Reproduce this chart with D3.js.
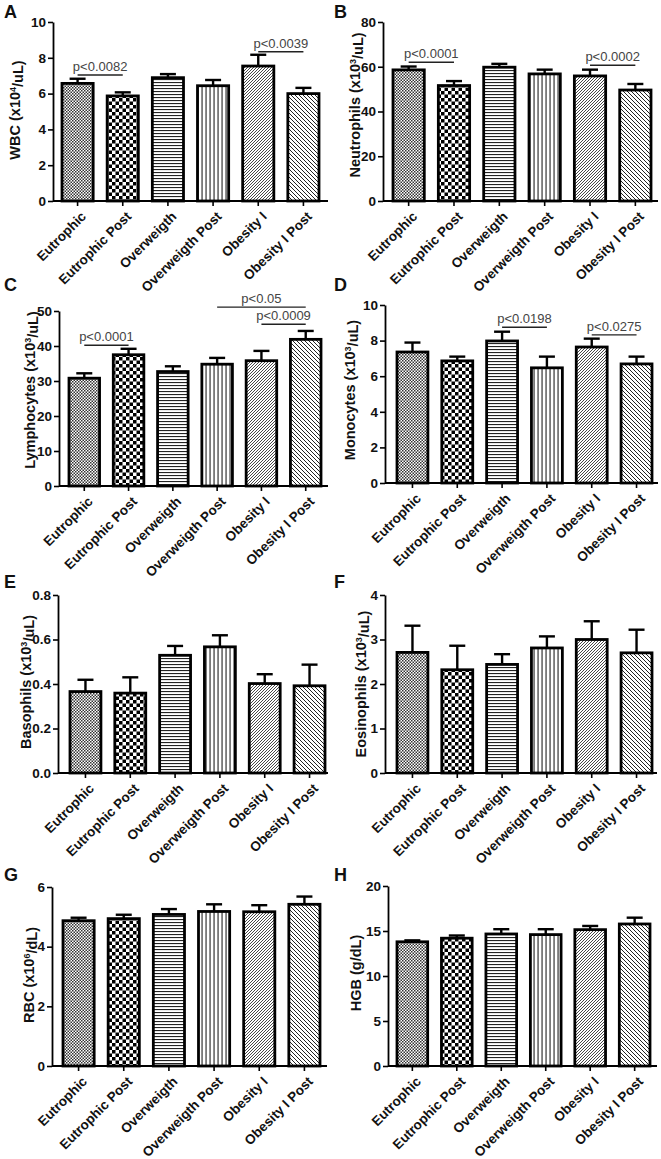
<!DOCTYPE html>
<html><head><meta charset="utf-8">
<script src="https://cdn.jsdelivr.net/npm/d3@7"></script>
<style>body{margin:0;background:#fff}svg{display:block}</style>
</head><body>
<script>
// ---------- DATA ----------
const categories = ["Eutrophic","Eutrophic Post","Overweigth","Overweigth Post","Obesity I","Obesity I Post"];
const wbc      = [6.57, 5.87, 6.89, 6.44, 7.54, 6.00];
const wbcErr   = [0.26, 0.20, 0.20, 0.32, 0.63, 0.32];
const neut     = [58.6, 51.6, 59.8, 56.8, 55.9, 49.6];
const neutErr  = [1.5, 2.0, 1.5, 1.9, 2.8, 2.7];
const lymph    = [30.8, 37.5, 32.7, 34.8, 35.8, 41.9];
const lymphErr = [1.4, 1.7, 1.5, 1.8, 2.8, 2.4];
const mono     = [7.36, 6.86, 7.98, 6.47, 7.64, 6.69];
const monoErr  = [0.53, 0.24, 0.52, 0.63, 0.47, 0.41];
const baso     = [0.366, 0.359, 0.529, 0.567, 0.402, 0.392];
const basoErr  = [0.053, 0.071, 0.042, 0.052, 0.042, 0.095];
const eos      = [2.71, 2.32, 2.44, 2.81, 3.00, 2.70];
const eosErr   = [0.60, 0.54, 0.23, 0.26, 0.41, 0.52];
const rbc      = [4.87, 4.94, 5.08, 5.18, 5.17, 5.42];
const rbcErr   = [0.10, 0.13, 0.18, 0.24, 0.22, 0.26];
const hgb      = [13.8, 14.2, 14.67, 14.6, 15.15, 15.78];
const hgbErr   = [0.16, 0.30, 0.53, 0.60, 0.41, 0.70];

const yTicksA = [0,2,4,6,8,10];
const yTicksB = [0,20,40,60,80];
const yTicksC = [0,10,20,30,40,50];
const yTicksD = [0,2,4,6,8,10];
const yTicksE = [0,0.2,0.4,0.6,0.8];
const yTicksF = [0,1,2,3,4];
const yTicksG = [0,2,4,6];
const yTicksH = [0,5,10,15,20];

// significance brackets: [fromIndex, toIndex, yValue, label]
const sigA = [[0,1,7.04,"p<0.0082"],[4,5,8.34,"p<0.0039"]];
const sigB = [[0,1,62.0,"p<0.0001"],[4,5,60.7,"p<0.0002"]];
const sigC = [[0,1,40.2,"p<0.0001"],[3,5,51.1,"p<0.05"],[4,5,46.2,"p<0.0009"]];
const sigD = [[2,3,8.75,"p<0.0198"],[4,5,8.32,"p<0.0275"]];

// ---------- LAYOUT ----------
const W = 661, H = 1159;
const svg = d3.select("body").append("svg").attr("width", W).attr("height", H);
const defs = svg.append("defs");

function pat(id, w, h, build){
  const p = defs.append("pattern").attr("id", id).attr("patternUnits","userSpaceOnUse")
    .attr("width", w).attr("height", h);
  p.append("rect").attr("width", w).attr("height", h).attr("fill","#fff");
  build(p);
}
pat("p0", 3, 3, p => {
  p.append("rect").attr("x",0).attr("y",0).attr("width",1.5).attr("height",1.5).attr("fill","#333");
  p.append("rect").attr("x",1.5).attr("y",1.5).attr("width",1.5).attr("height",1.5).attr("fill","#333");
});
pat("p1", 7, 7, p => {
  p.append("rect").attr("x",0).attr("y",0).attr("width",3.5).attr("height",3.5).attr("fill","#000");
  p.append("rect").attr("x",3.5).attr("y",3.5).attr("width",3.5).attr("height",3.5).attr("fill","#000");
});
pat("p2", 6, 3, p => {
  p.append("rect").attr("x",0).attr("y",1).attr("width",6).attr("height",1.1).attr("fill","#222");
});
pat("p3", 4, 6, p => {
  p.append("rect").attr("x",1.5).attr("y",0).attr("width",1.1).attr("height",6).attr("fill","#222");
});
pat("p4", 3, 3, p => {
  p.append("path").attr("d","M-1,1 L1,-1 M0,3 L3,0 M2,4 L4,2").attr("stroke","#333").attr("stroke-width",0.9);
});
pat("p5", 4, 4, p => {
  p.append("path").attr("d","M-1,3 L1,5 M0,0 L4,4 M3,-1 L5,1").attr("stroke","#222").attr("stroke-width",1.0);
});
const fills = ["url(#p0)","url(#p1)","url(#p2)","url(#p3)","url(#p4)","url(#p5)"];

const FONT = "'Liberation Sans', Arial, sans-serif";

const panels = [
  {letter:"A", lx:4, ly:18, x0:53, x1:328, bx:[62,319], y:[22,201], dom:[0,10], ticks:yTicksA, fmt:d3.format("d"), vals:wbc, errs:wbcErr, sig:sigA,
   title:["WBC (x10","4","/uL)"], tx:15, ty:110},
  {letter:"B", lx:334, ly:18, x0:383, x1:658, bx:[393,651], y:[22,201], dom:[0,80], ticks:yTicksB, fmt:d3.format("d"), vals:neut, errs:neutErr, sig:sigB,
   title:["Neutrophils (x10","3","/uL)"], tx:355, ty:105},
  {letter:"C", lx:4, ly:291, x0:59, x1:328, bx:[69,321], y:[311,486], dom:[0,50], ticks:yTicksC, fmt:d3.format("d"), vals:lymph, errs:lymphErr, sig:sigC,
   title:["Lymphocytes (x10","3","/uL)"], tx:30, ty:390},
  {letter:"D", lx:334, ly:291, x0:385, x1:658, bx:[397,652], y:[305,483], dom:[0,10], ticks:yTicksD, fmt:d3.format("d"), vals:mono, errs:monoErr, sig:sigD,
   title:["Monocytes (x10","3","/uL)"], tx:350, ty:390},
  {letter:"E", lx:4, ly:588, x0:58, x1:328, bx:[70,325], y:[595,773], dom:[0,0.8], ticks:yTicksE, fmt:d3.format(".1f"), vals:baso, errs:basoErr, sig:[],
   title:["Basophils (x10","3","/uL)"], tx:26, ty:682},
  {letter:"F", lx:334, ly:588, x0:385, x1:657, bx:[397,652], y:[595,773], dom:[0,4], ticks:yTicksF, fmt:d3.format("d"), vals:eos, errs:eosErr, sig:[],
   title:["Eosinophils (x10","3","/uL)"], tx:361, ty:684},
  {letter:"G", lx:4, ly:881, x0:52, x1:327, bx:[63,320], y:[887,1066], dom:[0,6], ticks:yTicksG, fmt:d3.format("d"), vals:rbc, errs:rbcErr, sig:[],
   title:["RBC (x10","6","/dL)"], tx:29, ty:975},
  {letter:"H", lx:334, ly:881, x0:388, x1:657, bx:[397,650], y:[886,1066], dom:[0,20], ticks:yTicksH, fmt:d3.format("d"), vals:hgb, errs:hgbErr, sig:[],
   title:["HGB (g/dL)"], tx:356, ty:973}
];

panels.forEach(P => {
  const g = svg.append("g");
  const x = d3.scaleBand().domain(categories).range(P.bx).paddingInner(0.31).paddingOuter(0);
  const y = d3.scaleLinear().domain(P.dom).range([P.y[1], P.y[0]]);
  const cx = i => x(categories[i]) + x.bandwidth()/2;

  svg.append("text").attr("x", P.lx).attr("y", P.ly).text(P.letter)
    .attr("font-family", FONT).attr("font-weight","bold").attr("font-size", 18).attr("fill","#111");

  g.selectAll("rect.bar").data(P.vals).join("rect").attr("class","bar")
    .attr("x", (d,i) => x(categories[i])).attr("width", x.bandwidth())
    .attr("y", d => y(d)).attr("height", d => y(0) - y(d))
    .attr("fill", (d,i) => fills[i]).attr("stroke","#000").attr("stroke-width", 2.8);

  const capW = 16;
  P.vals.forEach((v,i) => {
    const top = y(v + P.errs[i]);
    g.append("line").attr("x1", cx(i)).attr("x2", cx(i)).attr("y1", y(v)).attr("y2", top)
      .attr("stroke","#000").attr("stroke-width", 2.4);
    g.append("line").attr("x1", cx(i)-capW/2).attr("x2", cx(i)+capW/2).attr("y1", top).attr("y2", top)
      .attr("stroke","#000").attr("stroke-width", 2.4);
  });

  const ya = g.append("g").attr("transform", `translate(${P.x0},0)`)
    .call(d3.axisLeft(y).tickValues(P.ticks).tickFormat(P.fmt).tickSize(5).tickPadding(2).tickSizeOuter(0));
  ya.select(".domain").attr("stroke","#000").attr("stroke-width",1.8);
  ya.selectAll(".tick line").attr("stroke","#000").attr("stroke-width",1.6);
  ya.selectAll(".tick text").attr("font-family",FONT).attr("font-weight","bold").attr("font-size",13.5).attr("fill","#111");

  const xa = g.append("g").attr("transform", `translate(0,${P.y[1]})`);
  xa.append("line").attr("x1", P.x0).attr("x2", P.x1).attr("y1", 0).attr("y2", 0)
    .attr("stroke","#000").attr("stroke-width",1.8);
  categories.forEach((c,i) => {
    xa.append("line").attr("x1", cx(i)).attr("x2", cx(i)).attr("y1", 0).attr("y2", 5)
      .attr("stroke","#000").attr("stroke-width",1.6);
    xa.append("text").attr("transform", `translate(${cx(i)+6},${13}) rotate(-45)`)
      .attr("text-anchor","end").attr("dy","0.35em").text(c)
      .attr("font-family",FONT).attr("font-weight","bold").attr("font-size",13.5).attr("fill","#111");
  });

  const t = svg.append("text").attr("transform", `translate(${P.tx},${P.ty}) rotate(-90)`)
    .attr("text-anchor","middle").attr("dy","0.35em")
    .attr("font-family",FONT).attr("font-weight","bold").attr("font-size",14.5).attr("fill","#111");
  t.append("tspan").text(P.title[0]);
  if (P.title.length > 1) {
    t.append("tspan").text(P.title[1]).attr("font-size",9).attr("dy","-0.5em");
    t.append("tspan").text(P.title[2]).attr("dy","0.5em");
  }

  P.sig.forEach(s => {
    const yy = y(s[2]);
    g.append("line").attr("x1", cx(s[0])).attr("x2", cx(s[1])).attr("y1", yy).attr("y2", yy)
      .attr("stroke","#222").attr("stroke-width",1.4);
    g.append("text").attr("x", (cx(s[0])+cx(s[1]))/2).attr("y", yy-4).attr("text-anchor","middle")
      .text(s[3]).attr("font-family",FONT).attr("font-size",13).attr("fill","#444");
  });
});
</script>
</body></html>
